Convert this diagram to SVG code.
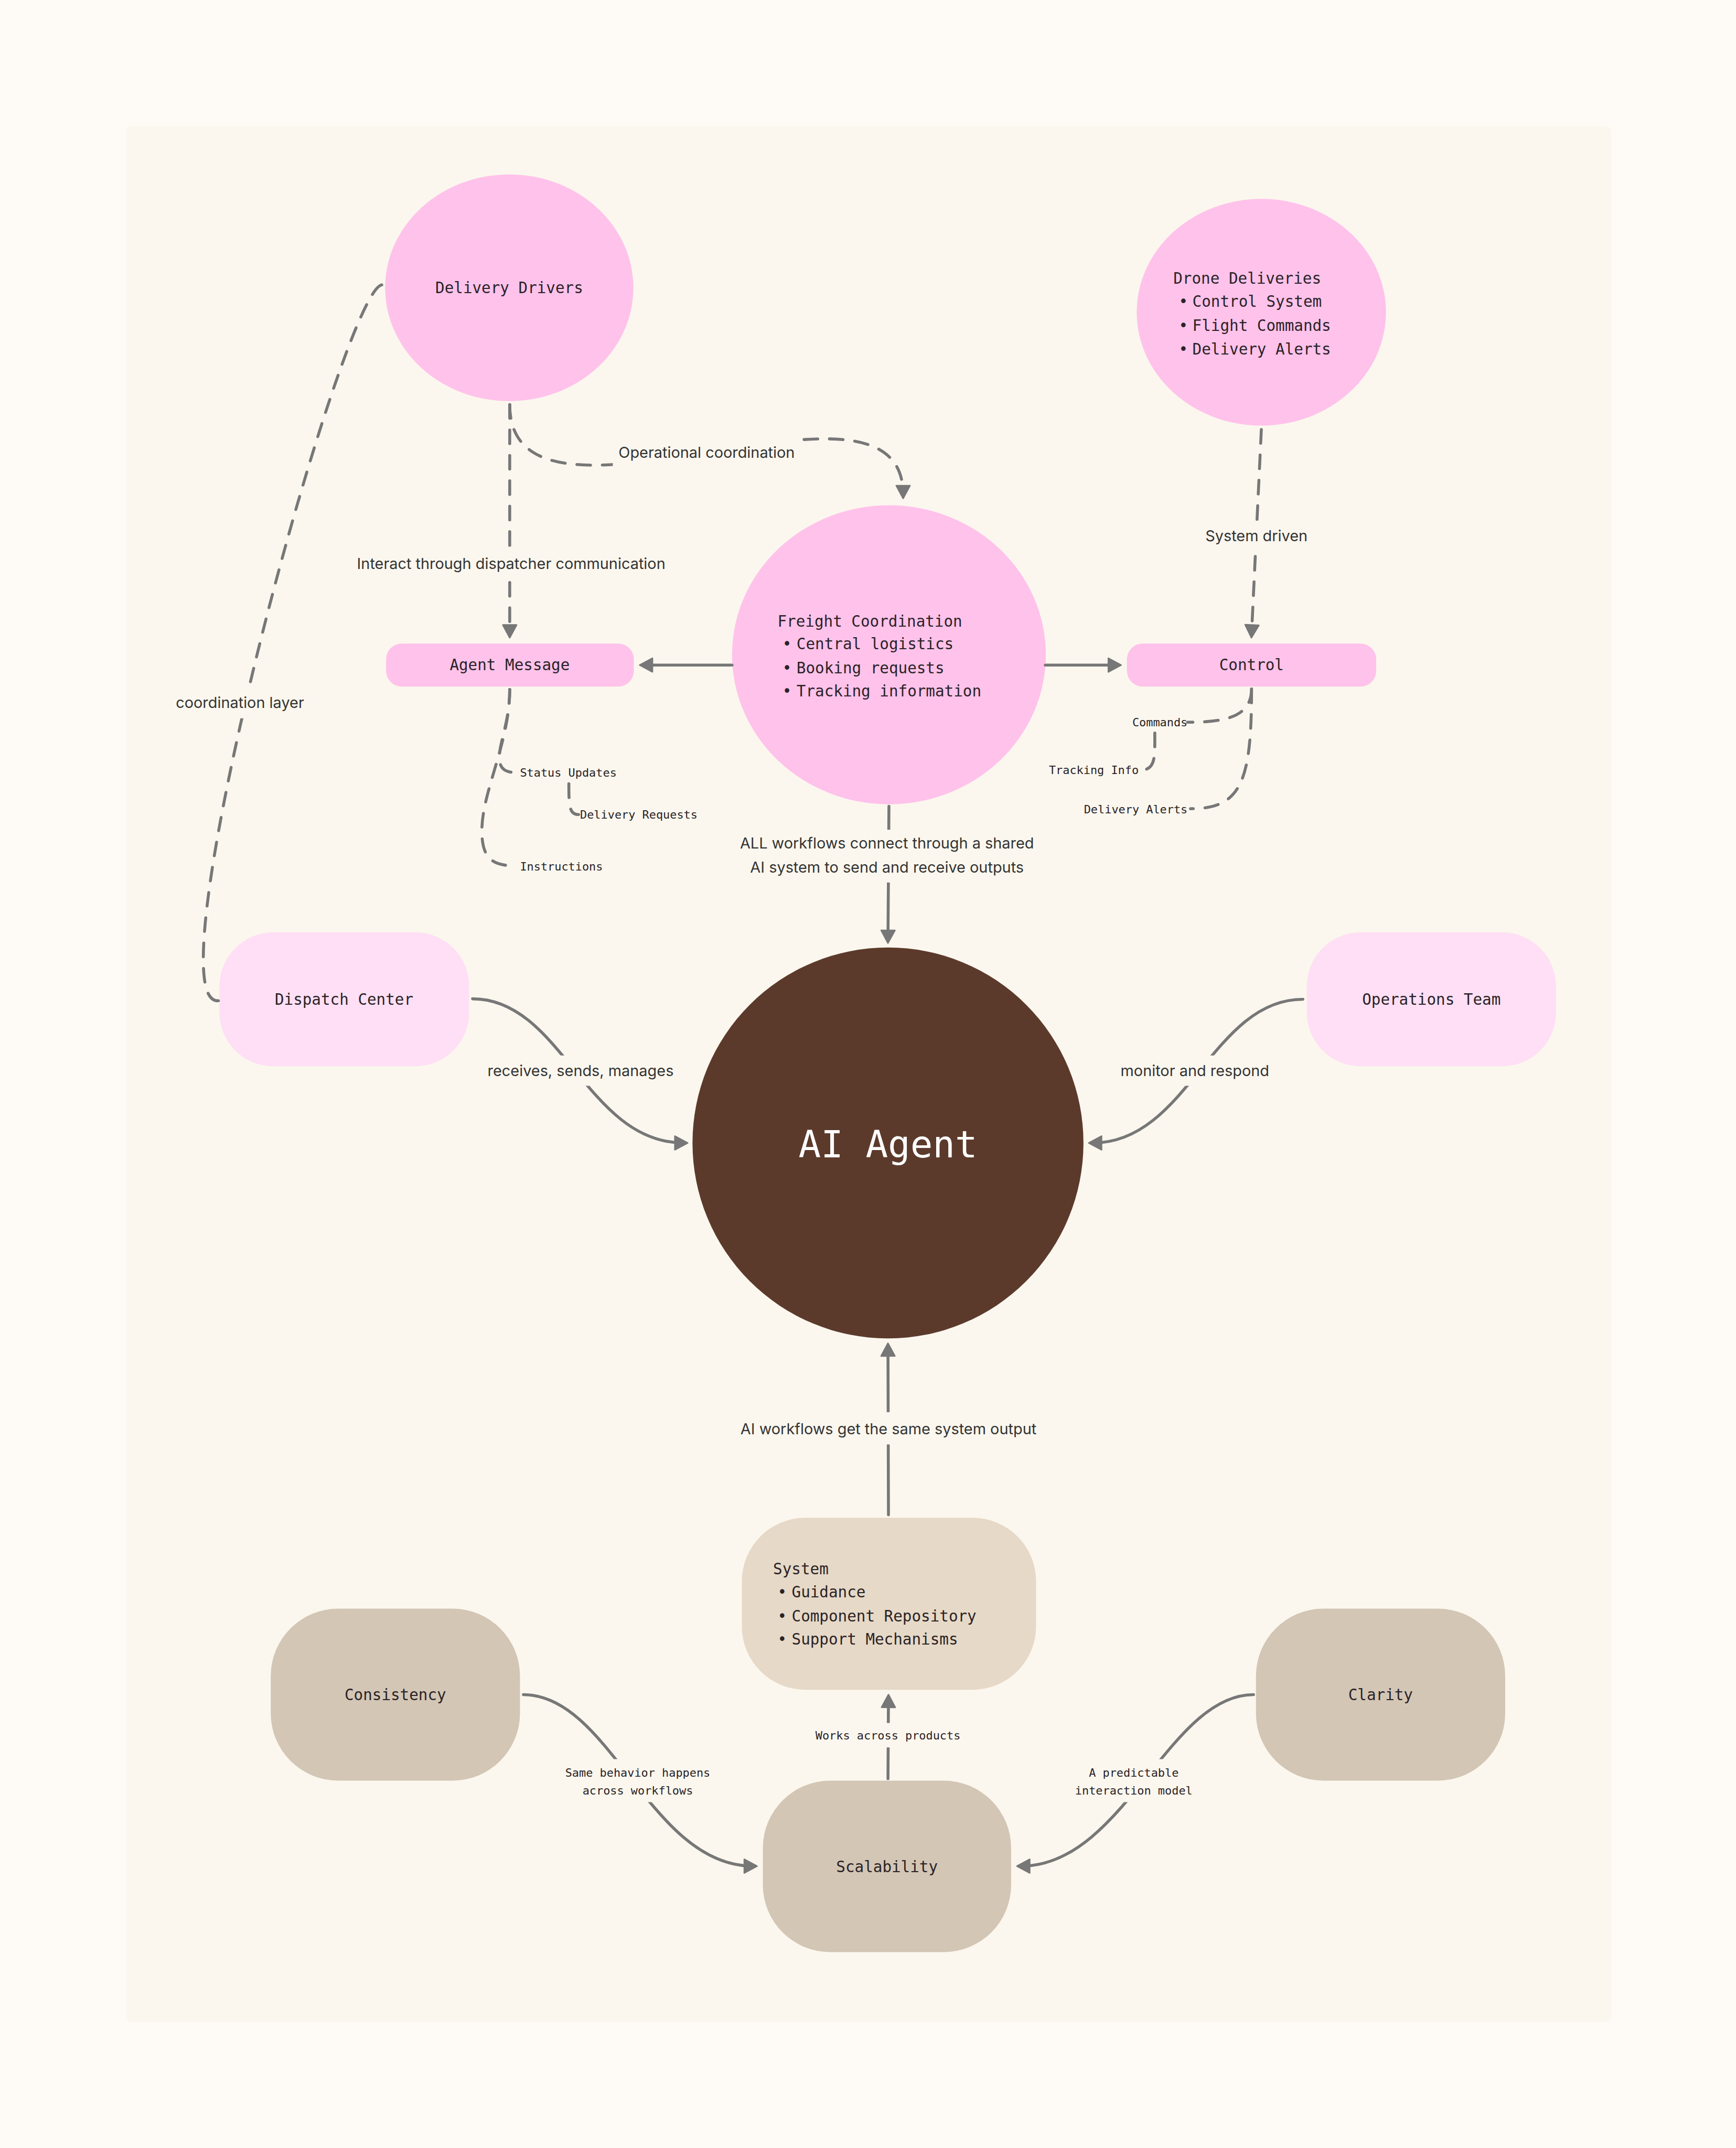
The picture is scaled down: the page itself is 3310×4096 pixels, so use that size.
<svg xmlns="http://www.w3.org/2000/svg" width="3310" height="4096" viewBox="0 0 3310 4096">
<defs>
<style>
.nt{font-family:"DejaVu Sans Mono","Liberation Mono",monospace;font-size:31.4px;fill:#2a2326}
.sm{font-family:"DejaVu Sans Mono","Liberation Mono",monospace;font-size:23.5px;fill:#2a2326}
.lbl{font-family:Inter,"Liberation Sans",sans-serif;font-size:31px;fill:#333}
.dash{fill:none;stroke:#777;stroke-width:6;stroke-dasharray:28 24;stroke-linecap:round}
.solid{fill:none;stroke:#777;stroke-width:6;stroke-linecap:round}
.bg{fill:#FBF7EE}
.pink{fill:#FFC2EB}
.lpink{fill:#FFDFF5}
.tan{fill:#D3C6B5}
</style>
<marker id="arr" markerUnits="userSpaceOnUse" markerWidth="32" markerHeight="32" viewBox="0 0 30 32" refX="20" refY="16" orient="auto">
<path d="M2,2 L28,16 L2,30 Z" fill="#777" stroke="#777" stroke-width="3" stroke-linejoin="round" stroke-dasharray="none"/>
</marker>
</defs>
<rect x="0" y="0" width="3310" height="4096" fill="#FEFBF6"/>
<g transform="scale(0.9318)">
<rect x="258" y="258" width="3039" height="3880" rx="10" fill="#FBF7EE"/>

<g id="nodes">
<g id="delivery-drivers"><ellipse class="pink" cx="1042" cy="589" rx="254" ry="232"/><text class="nt" x="1042" y="600" text-anchor="middle">Delivery Drivers</text></g>
<g id="drone-deliveries"><ellipse class="pink" cx="2581" cy="639" rx="255" ry="232"/>
<text class="nt" x="2401" y="581">Drone Deliveries</text>
<text class="nt" x="2412" y="628">•</text><text class="nt" x="2440" y="628">Control System</text>
<text class="nt" x="2412" y="677">•</text><text class="nt" x="2440" y="677">Flight Commands</text>
<text class="nt" x="2412" y="725">•</text><text class="nt" x="2440" y="725">Delivery Alerts</text></g>
<g id="freight-coordination"><ellipse class="pink" cx="1819" cy="1340" rx="321" ry="306"/>
<text class="nt" x="1591" y="1282">Freight Coordination</text>
<text class="nt" x="1601" y="1329">•</text><text class="nt" x="1630" y="1329">Central logistics</text>
<text class="nt" x="1601" y="1378">•</text><text class="nt" x="1630" y="1378">Booking requests</text>
<text class="nt" x="1601" y="1425">•</text><text class="nt" x="1630" y="1425">Tracking information</text></g>
<g id="agent-message"><rect class="pink" x="790" y="1317" width="507" height="88" rx="32"/><text class="nt" x="1043" y="1372" text-anchor="middle">Agent Message</text></g>
<g id="control"><rect class="pink" x="2306" y="1317" width="510" height="88" rx="32"/><text class="nt" x="2561" y="1372" text-anchor="middle">Control</text></g>
<g id="dispatch-center"><rect class="lpink" x="449" y="1908" width="511" height="274" rx="110"/><text class="nt" x="704" y="2056" text-anchor="middle">Dispatch Center</text></g>
<g id="operations-team"><rect class="lpink" x="2674" y="1908" width="510" height="274" rx="110"/><text class="nt" x="2929" y="2056" text-anchor="middle">Operations Team</text></g>
<g id="ai-agent"><circle cx="1817" cy="2339" r="400" fill="#5C3A2B"/><text x="1817" y="2369" text-anchor="middle" style="font-family:'DejaVu Sans Mono','Liberation Mono',monospace;font-size:76px;fill:#fff">AI Agent</text></g>
<g id="system"><rect x="1518" y="3106" width="602" height="352" rx="130" fill="#E6D9C7"/>
<text class="nt" x="1582" y="3222">System</text>
<text class="nt" x="1591" y="3269">•</text><text class="nt" x="1620" y="3269">Guidance</text>
<text class="nt" x="1591" y="3318">•</text><text class="nt" x="1620" y="3318">Component Repository</text>
<text class="nt" x="1591" y="3366">•</text><text class="nt" x="1620" y="3366">Support Mechanisms</text></g>
<g id="consistency"><rect class="tan" x="554" y="3292" width="510" height="352" rx="138"/><text class="nt" x="809" y="3479" text-anchor="middle">Consistency</text></g>
<g id="scalability"><rect class="tan" x="1561" y="3644" width="508" height="351" rx="138"/><text class="nt" x="1815" y="3831" text-anchor="middle">Scalability</text></g>
<g id="clarity"><rect class="tan" x="2570" y="3292" width="510" height="352" rx="138"/><text class="nt" x="2825" y="3479" text-anchor="middle">Clarity</text></g>
</g>

<g id="connectors">
<path class="dash" d="M1043,828 L1043,1297" marker-end="url(#arr)"/>
<path class="dash" d="M1043,828 C1043,1150 1848,706 1848,1012" marker-end="url(#arr)"/>
<path class="dash" d="M2581,879 L2561,1297" marker-end="url(#arr)"/>
<path class="solid" d="M2139,1361 L2286,1361" marker-end="url(#arr)"/>
<path class="solid" d="M1498,1361 L1317,1361" marker-end="url(#arr)"/>
<path class="dash" d="M2561,1410 C2561,1470 2500,1478 2430,1478"/>
<path class="dash" d="M2363,1500 C2363,1550 2365,1575 2335,1576"/>
<path class="dash" d="M2561,1410 C2561,1600 2540,1655 2436,1655"/>
<path class="dash" d="M1043,1411 C1043,1480 1020,1520 1022,1555 C1024,1578 1040,1581 1058,1581"/>
<path class="dash" d="M1043,1411 C1043,1520 986,1620 986,1700 C986,1760 1010,1772 1058,1772"/>
<path class="dash" d="M1164,1604 C1164,1650 1165,1667 1184,1667"/>
<path class="solid" d="M1819,1650 L1817,1922" marker-end="url(#arr)"/>
<path class="solid" d="M967,2044 C1150,2044 1200,2339 1399,2339" marker-end="url(#arr)"/>
<path class="solid" d="M2666,2045 C2480,2045 2430,2339 2236,2339" marker-end="url(#arr)"/>
<path class="dash" d="M447,2048 C300,2060 720,520 787,585"/>
<path class="solid" d="M1818,3100 L1817,2757" marker-end="url(#arr)"/>
<path class="solid" d="M1817,3640 L1818,3476" marker-end="url(#arr)"/>
<path class="solid" d="M1071,3468 C1250,3468 1330,3819 1541,3819" marker-end="url(#arr)"/>
<path class="solid" d="M2565,3468 C2390,3468 2300,3819 2089,3819" marker-end="url(#arr)"/>
</g>

<g id="labels">
<rect class="bg" x="716" y="1124" width="660" height="58"/>
<text class="lbl" x="1046" y="1164" text-anchor="middle">Interact through dispatcher communication</text>
<rect class="bg" x="1254" y="898" width="384" height="58"/>
<text class="lbl" x="1446" y="937" text-anchor="middle">Operational coordination</text>
<rect class="bg" x="2460" y="1066" width="222" height="62"/>
<text class="lbl" x="2571" y="1107" text-anchor="middle">System driven</text>
<rect class="bg" x="1505" y="1698" width="620" height="108"/>
<text class="lbl" x="1815" y="1736" text-anchor="middle">ALL workflows connect through a shared</text>
<text class="lbl" x="1815" y="1786" text-anchor="middle">AI system to send and receive outputs</text>
<rect class="bg" x="990" y="2160" width="396" height="62"/>
<text class="lbl" x="1188" y="2202" text-anchor="middle">receives, sends, manages</text>
<rect class="bg" x="2285" y="2160" width="320" height="62"/>
<text class="lbl" x="2445" y="2202" text-anchor="middle">monitor and respond</text>
<rect class="bg" x="352" y="1406" width="278" height="64"/>
<text class="lbl" x="491" y="1449" text-anchor="middle">coordination layer</text>
<rect class="bg" x="1500" y="2890" width="636" height="66"/>
<text class="lbl" x="1818" y="2935" text-anchor="middle">AI workflows get the same system output</text>
<rect class="bg" x="1662" y="3526" width="310" height="50"/>
<text class="sm" x="1817" y="3560" text-anchor="middle">Works across products</text>
<rect class="bg" x="1150" y="3600" width="310" height="88"/>
<text class="sm" x="1305" y="3636" text-anchor="middle">Same behavior happens</text>
<text class="sm" x="1305" y="3672" text-anchor="middle">across workflows</text>
<rect class="bg" x="2190" y="3600" width="262" height="88"/>
<text class="sm" x="2320" y="3636" text-anchor="middle">A predictable</text>
<text class="sm" x="2320" y="3672" text-anchor="middle">interaction model</text>
<text class="sm" x="2430" y="1486" text-anchor="end">Commands</text>
<text class="sm" x="2330" y="1584" text-anchor="end">Tracking Info</text>
<text class="sm" x="2430" y="1665" text-anchor="end">Delivery Alerts</text>
<text class="sm" x="1064" y="1589">Status Updates</text>
<text class="sm" x="1187" y="1675">Delivery Requests</text>
<text class="sm" x="1064" y="1781">Instructions</text>
</g>
</g>
</svg>
